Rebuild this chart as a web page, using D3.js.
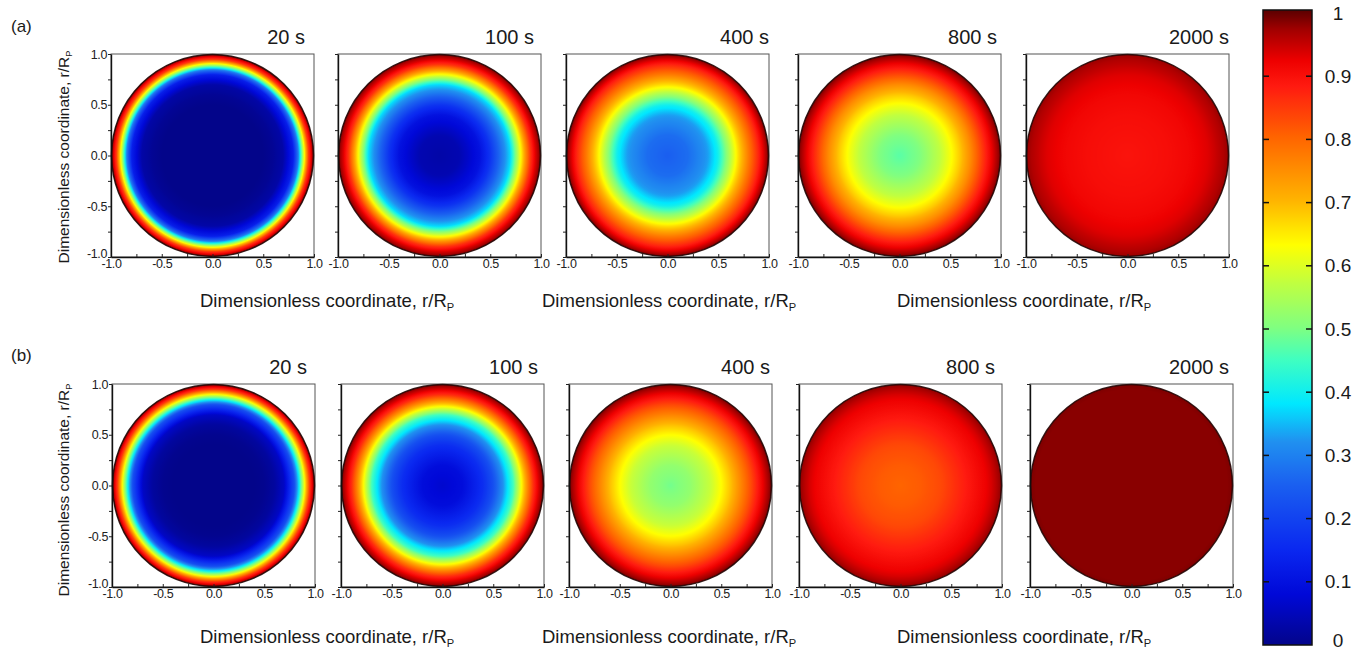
<!DOCTYPE html>
<html>
<head>
<meta charset="utf-8">
<script src="https://cdn.jsdelivr.net/npm/d3@7"></script>
<style>
  body { margin: 0; background: #fff; }
  svg { display: block; font-family: "Liberation Sans", Arial, sans-serif; }
</style>
</head>
<body>
<svg id="chart" width="1354" height="651"></svg>
<script>
// Radial sample positions, dimensionless r/Rp
const radii = [0, 0.2, 0.4, 0.5, 0.6, 0.7, 0.8, 0.85, 0.9, 0.95, 1.0];

// Time labels for the five snapshots
const times = ["20 s", "100 s", "400 s", "800 s", "2000 s"];
const rowLabels = ["(a)", "(b)"];

// Dimensionless concentration profiles, row (a)
const a20   = [0.00, 0.00, 0.00, 0.00, 0.01, 0.03, 0.13, 0.30, 0.58, 0.84, 0.99];
const a100  = [0.03, 0.04, 0.10, 0.17, 0.27, 0.37, 0.62, 0.74, 0.85, 0.93, 0.99];
const a400  = [0.25, 0.27, 0.33, 0.40, 0.53, 0.66, 0.77, 0.82, 0.87, 0.93, 0.99];
const a800  = [0.47, 0.50, 0.57, 0.62, 0.68, 0.75, 0.83, 0.87, 0.91, 0.95, 0.99];
const a2000 = [0.89, 0.895, 0.90, 0.905, 0.91, 0.92, 0.93, 0.94, 0.95, 0.96, 0.975];

// Dimensionless concentration profiles, row (b)
const b20   = [0.00, 0.00, 0.00, 0.005, 0.02, 0.06, 0.22, 0.40, 0.62, 0.84, 0.99];
const b100  = [0.07, 0.09, 0.16, 0.22, 0.32, 0.45, 0.67, 0.77, 0.86, 0.93, 0.99];
const b400  = [0.49, 0.52, 0.58, 0.63, 0.69, 0.76, 0.83, 0.87, 0.91, 0.95, 0.99];
const b800  = [0.80, 0.81, 0.83, 0.85, 0.87, 0.89, 0.91, 0.92, 0.935, 0.955, 0.98];
const b2000 = [0.98, 0.98, 0.98, 0.98, 0.98, 0.98, 0.98, 0.98, 0.98, 0.98, 0.985];

const rowsData = [[a20, a100, a400, a800, a2000], [b20, b100, b400, b800, b2000]];

// Axis ticks
const majorTicks = [-1, -0.5, 0, 0.5, 1];
const allTicks = [-1, -0.75, -0.5, -0.25, 0, 0.25, 0.5, 0.75, 1];
const cbTicks = [0, 0.1, 0.2, 0.3, 0.4, 0.5, 0.6, 0.7, 0.8, 0.9, 1];
const cbTickLabels = ["0", "0.1", "0.2", "0.3", "0.4", "0.5", "0.6", "0.7", "0.8", "0.9", "1"];

// Colour map (jet-like)
const cmapStops  = [0, 0.08, 0.15, 0.25, 0.32, 0.38, 0.45, 0.5, 0.57, 0.63, 0.7, 0.8, 0.88, 0.92, 0.97, 1.0];
const cmapColors = ["#03058a", "#0008d8", "#0a28f0", "#1a5ef0", "#2090f0", "#00e8ff", "#40ffc0", "#80ff80",
                    "#c0ff40", "#ffff00", "#ffb400", "#ff6400", "#ff1a10", "#ee0000", "#a00000", "#5a0000"];

const color = d3.scaleLinear().domain(cmapStops).range(cmapColors)
  .interpolate(d3.interpolateRgb).clamp(true);

// ---- layout ----
const panelSize = 203;
const rowLayout = [
  { top: 54,  lefts: [111, 338, 566, 798, 1026], titleShift: [9, 7, 0, 4, 0],
    labelY: 32, xTitleY: 307, yTitleCy: 157 },
  { top: 384, lefts: [112, 341, 569, 799, 1030], titleShift: [8, 6, 2, 7, 4],
    labelY: 361, xTitleY: 643, yTitleCy: 490 }
];
const xTitleStarts = [200, 542, 897];

const svg = d3.select("#chart");
const defs = svg.append("defs");
const sampleR = d3.range(0, 1.0001, 0.01);

function axisTitle(g, x, y, size, rotate) {
  const t = g.append("text")
    .attr("x", x).attr("y", y)
    .attr("font-size", size)
    .attr("fill", "#1a1a1a");
  if (rotate) {
    t.attr("transform", `rotate(-90,${x},${y})`).attr("text-anchor", "middle");
  }
  t.append("tspan").text("Dimensionless coordinate, r/R");
  t.append("tspan").text("P").attr("font-size", size * 0.6).attr("dy", size * 0.22);
  return t;
}

rowsData.forEach((row, ri) => {
  const L = rowLayout[ri];

  // row label
  svg.append("text").attr("x", 11).attr("y", L.labelY)
    .attr("font-size", 17).attr("fill", "#1a1a1a").text(rowLabels[ri]);

  row.forEach((vals, pi) => {
    const px = L.lefts[pi], py = L.top;
    const x = d3.scaleLinear().domain([-1, 1]).range([px, px + panelSize]);
    const y = d3.scaleLinear().domain([-1, 1]).range([py + panelSize, py]);
    const profile = d3.scaleLinear().domain(radii).range(vals).clamp(true);

    const gid = `grad-${ri}-${pi}`;
    const grad = defs.append("radialGradient").attr("id", gid)
      .attr("cx", "50%").attr("cy", "50%").attr("r", "50%");
    grad.selectAll("stop").data(sampleR).join("stop")
      .attr("offset", d => (d * 100).toFixed(1) + "%")
      .attr("stop-color", d => color(profile(d)));

    const g = svg.append("g");

    // frame
    g.append("rect")
      .attr("x", x(-1)).attr("y", y(1))
      .attr("width", x(1) - x(-1)).attr("height", y(-1) - y(1))
      .attr("fill", "none").attr("stroke", "#555").attr("stroke-width", 1);

    // concentration field
    g.append("circle")
      .attr("cx", x(0)).attr("cy", y(0)).attr("r", x(1) - x(0) - 0.5)
      .attr("fill", `url(#${gid})`)
      .attr("stroke", "#220604").attr("stroke-width", 1.5).attr("stroke-opacity", 0.9);

    // bottom axis
    const xa = g.append("g").attr("transform", `translate(0,${y(-1)})`)
      .call(d3.axisBottom(x).tickValues(allTicks).tickSizeInner(-3).tickSizeOuter(0).tickPadding(2)
        .tickFormat(d => majorTicks.includes(d) ? d.toFixed(1) : ""));
    // left axis
    const ya = g.append("g").attr("transform", `translate(${x(-1)},0)`)
      .call(d3.axisLeft(y).tickValues(allTicks).tickSizeInner(3).tickSizeOuter(0).tickPadding(1)
        .tickFormat(d => (pi === 0 && majorTicks.includes(d)) ? d.toFixed(1) : ""));

    [xa, ya].forEach(a => {
      a.select(".domain").attr("stroke", "#111").attr("stroke-width", 1.4);
      a.selectAll(".tick line").attr("stroke", "#222").attr("stroke-width", 1);
      a.selectAll(".tick text").attr("font-size", 12.5).attr("fill", "#222")
        .attr("letter-spacing", "-0.4px")
        .attr("font-family", "'Liberation Sans',Arial,sans-serif");
    });
    // lift the lowest y label clear of the x labels
    ya.selectAll(".tick text").filter(d => d === -1).attr("dy", "0.05em");

    // time label
    svg.append("text")
      .attr("x", x(1) - L.titleShift[pi]).attr("y", py - 10)
      .attr("text-anchor", "end").attr("font-size", 20).attr("fill", "#1a1a1a")
      .text(times[pi]);
  });

  // axis titles
  xTitleStarts.forEach(sx => axisTitle(svg, sx, L.xTitleY, 18.5, false));
  axisTitle(svg, 69, L.yTitleCy, 15.5, true);
});

// ---- colour bar ----
const cb = d3.scaleLinear().domain([0, 1]).range([645, 13]);
const cbX = 1263, cbW = 49;
const lg = defs.append("linearGradient").attr("id", "cbgrad")
  .attr("x1", 0).attr("y1", 1).attr("x2", 0).attr("y2", 0);
lg.selectAll("stop").data(sampleR).join("stop")
  .attr("offset", d => (d * 100).toFixed(1) + "%")
  .attr("stop-color", d => color(d));

svg.append("rect")
  .attr("x", cbX).attr("y", cb(1) - 3)
  .attr("width", cbW).attr("height", cb(0) - cb(1) + 3)
  .attr("fill", "url(#cbgrad)")
  .attr("stroke", "#111").attr("stroke-width", 1.5);

const cbt = svg.append("g");
cbt.selectAll("line.l").data(cbTicks.slice(1, -1)).join("line")
  .attr("x1", cbX).attr("x2", cbX + 6)
  .attr("y1", d => cb(d)).attr("y2", d => cb(d))
  .attr("stroke", "#111").attr("stroke-width", 1.5);
cbt.selectAll("line.r").data(cbTicks.slice(1, -1)).join("line")
  .attr("x1", cbX + cbW - 6).attr("x2", cbX + cbW)
  .attr("y1", d => cb(d)).attr("y2", d => cb(d))
  .attr("stroke", "#111").attr("stroke-width", 1.5);
cbt.selectAll("text").data(cbTicks).join("text")
  .attr("x", 1338).attr("y", d => Math.min(cb(d), 640))
  .attr("text-anchor", "middle").attr("dominant-baseline", "central")
  .attr("font-size", 19).attr("fill", "#1a1a1a")
  .text((d, i) => cbTickLabels[i]);
</script>
</body>
</html>
